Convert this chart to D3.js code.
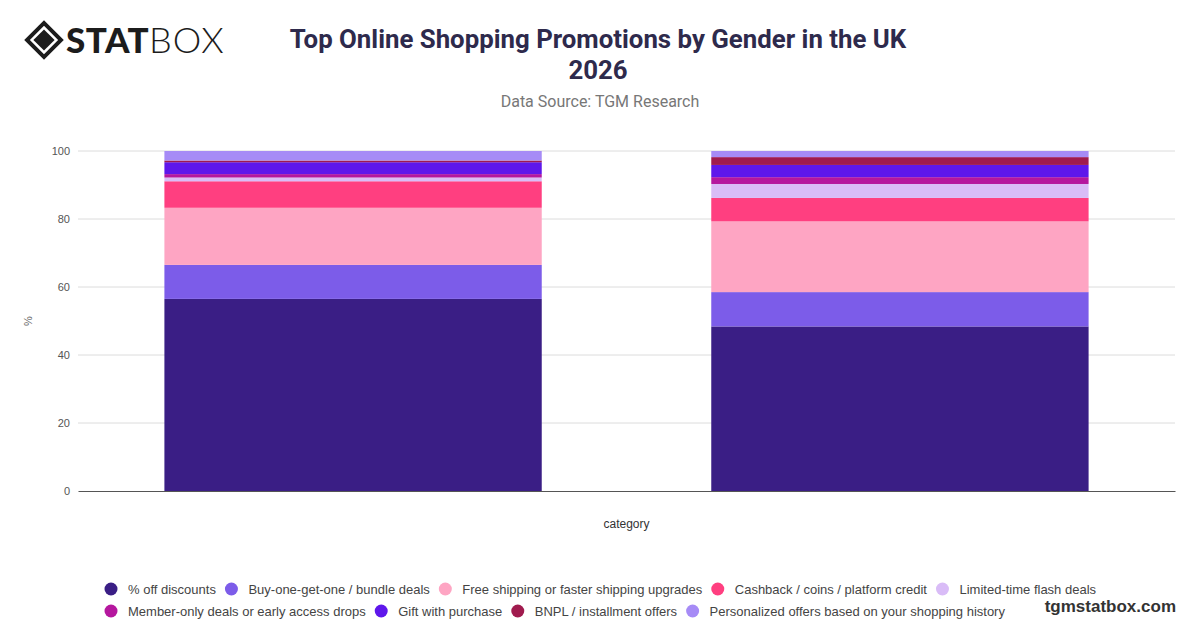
<!DOCTYPE html>
<html>
<head>
<meta charset="utf-8">
<script src="https://cdn.jsdelivr.net/npm/d3@7"></script>
<style>
  html, body { margin: 0; padding: 0; background: #fff; }
  svg { display: block; }
</style>
</head>
<body>
<svg id="chart" width="1200" height="628"></svg>
<script>
// ---- Data ----
const categories = ["Female", "Male"];
const seriesNames = [
  "% off discounts",
  "Buy-one-get-one / bundle deals",
  "Free shipping or faster shipping upgrades",
  "Cashback / coins / platform credit",
  "Limited-time flash deals",
  "Member-only deals or early access drops",
  "Gift with purchase",
  "BNPL / installment offers",
  "Personalized offers based on your shopping history"
];
const femaleValues = [56.5, 10.0, 16.8, 7.8, 1.1, 1.0, 3.5, 0.5, 2.8];
const maleValues   = [48.4, 10.1, 20.8, 6.9, 4.1, 2.0, 3.6, 2.3, 1.8];
const seriesColors = ["#3a1e85", "#7c5ce9", "#fea5c3", "#ff3f80", "#d9bcf7", "#b5179e", "#5e17eb", "#a01b4e", "#a68bf6"];
const yTicks = [0, 20, 40, 60, 80, 100];

const svg = d3.select("#chart");
const W = 1200, H = 628;
const margin = { left: 78, right: 25, top: 151, bottom: 137 };
const plotW = W - margin.left - margin.right;
const plotH = H - margin.top - margin.bottom;

// ---- Build table ----
const table = categories.map((c, i) => {
  const row = { category: c };
  const vals = i === 0 ? femaleValues : maleValues;
  seriesNames.forEach((s, j) => row[s] = vals[j]);
  return row;
});
const stacked = d3.stack().keys(seriesNames)(table);

const x = d3.scaleBand().domain(categories).range([margin.left, margin.left + plotW])
  .paddingInner(0.31).paddingOuter(0.158);
const y = d3.scaleLinear().domain([0, 100]).range([margin.top + plotH, margin.top]);
const color = d3.scaleOrdinal().domain(seriesNames).range(seriesColors);

// ---- Grid ----
svg.append("g").selectAll("line").data(yTicks.filter(t => t > 0)).join("line")
  .attr("x1", margin.left).attr("x2", margin.left + plotW)
  .attr("y1", d => y(d)).attr("y2", d => y(d))
  .attr("stroke", "#dcdcdc").attr("stroke-width", 1);

// ---- Bars ----
svg.append("g").selectAll("g").data(stacked).join("g")
  .attr("fill", d => color(d.key))
  .selectAll("rect").data(d => d).join("rect")
  .attr("x", d => x(d.data.category))
  .attr("width", x.bandwidth())
  .attr("y", d => y(d[1]))
  .attr("height", d => y(d[0]) - y(d[1]));

// ---- Axes ----
const yAxis = svg.append("g").attr("transform", `translate(${margin.left},0)`)
  .call(d3.axisLeft(y).tickValues(yTicks).tickSize(0).tickPadding(8));
yAxis.select(".domain").remove();
yAxis.selectAll("text").attr("font-family", "Liberation Sans, Arial, sans-serif")
  .attr("font-size", 11).attr("fill", "#555");

const xAxis = svg.append("g").attr("transform", `translate(0,${margin.top + plotH})`)
  .call(d3.axisBottom(x).tickSize(0).tickFormat(""));
xAxis.select(".domain").attr("stroke", "#555").attr("stroke-width", 1.2);

svg.append("text").attr("x", margin.left + plotW / 2).attr("y", 528)
  .attr("text-anchor", "middle").attr("font-family", "Liberation Sans, Arial, sans-serif")
  .attr("font-size", 12).attr("fill", "#333").text("category");

svg.append("text").attr("transform", `translate(32,${y(50)}) rotate(-90)`)
  .attr("text-anchor", "middle").attr("font-family", "Liberation Sans, Arial, sans-serif")
  .attr("font-size", 11).attr("fill", "#666").text("%");

// ---- Titles ----
svg.append("text").attr("x", 598).attr("y", 48).attr("text-anchor", "middle")
  .attr("font-family", "Roboto, Liberation Sans, sans-serif").attr("font-weight", "bold")
  .attr("font-size", 25.8).attr("fill", "#2e2a4c").text("Top Online Shopping Promotions by Gender in the UK");
svg.append("text").attr("x", 598).attr("y", 79).attr("text-anchor", "middle")
  .attr("font-family", "Roboto, Liberation Sans, sans-serif").attr("font-weight", "bold")
  .attr("font-size", 25.8).attr("fill", "#2e2a4c").text("2026");
svg.append("text").attr("x", 600).attr("y", 107).attr("text-anchor", "middle")
  .attr("font-family", "Roboto, Liberation Sans, sans-serif")
  .attr("font-size", 16).attr("fill", "#777").text("Data Source: TGM Research");

// ---- Legend ----
const legendRows = [seriesNames.slice(0, 5), seriesNames.slice(5)];
const legendY = [589, 611];
legendRows.forEach((row, ri) => {
  let cx = 111;
  row.forEach(name => {
    const g = svg.append("g");
    g.append("circle").attr("cx", cx).attr("cy", legendY[ri]).attr("r", 6.5).attr("fill", color(name));
    const t = g.append("text").attr("x", cx + 17).attr("y", legendY[ri] + 4.5)
      .attr("font-family", "Liberation Sans, Arial, sans-serif").attr("font-size", 13)
      .attr("fill", "#444").text(name);
    const w = t.node().getComputedTextLength();
    cx = cx + 17 + w + 15.5;
  });
});

svg.append("text").attr("x", 1176).attr("y", 612).attr("text-anchor", "end")
  .attr("font-family", "Liberation Sans, Arial, sans-serif").attr("font-weight", "bold")
  .attr("font-size", 17).attr("fill", "#333").text("tgmstatbox.com");

// ---- Logo ----
const logo = svg.append("g").attr("transform", "translate(44,40)");
logo.append("rect").attr("x", -12).attr("y", -12).attr("width", 24).attr("height", 24)
  .attr("transform", "rotate(45)").attr("fill", "none").attr("stroke", "#1c1c1c").attr("stroke-width", 4);
logo.append("rect").attr("x", -7.5).attr("y", -7.5).attr("width", 15).attr("height", 15)
  .attr("transform", "rotate(45)").attr("fill", "#1c1c1c");
svg.append("text").attr("x", 66).attr("y", 53)
  .attr("font-family", "Lato, DejaVu Sans, sans-serif").attr("font-weight", 900)
  .attr("font-size", 35).attr("letter-spacing", 0.5).attr("fill", "#1c1c1c").text("STAT");
svg.append("text").attr("x", 149).attr("y", 53)
  .attr("font-family", "Lato, DejaVu Sans, sans-serif").attr("font-weight", 300)
  .attr("font-size", 36).attr("letter-spacing", 1).attr("fill", "#1c1c1c").text("BOX");
</script>
</body>
</html>
